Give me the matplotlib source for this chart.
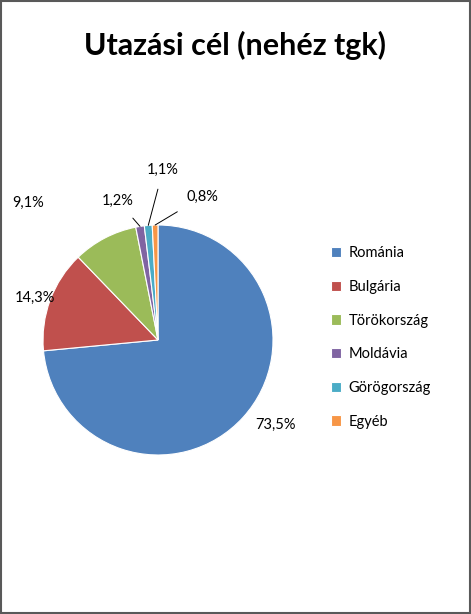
import matplotlib
matplotlib.use("Agg")
import matplotlib.pyplot as plt
import numpy as np

plt.rcParams['font.family'] = ['Lato', 'DejaVu Sans']

categories = ["Románia", "Bulgária", "Törökország", "Moldávia", "Görögország", "Egyéb"]
values = [73.5, 14.3, 9.1, 1.2, 1.1, 0.8]
labels = ["73,5%", "14,3%", "9,1%", "1,2%", "1,1%", "0,8%"]
colors = ["#4F81BD", "#C0504D", "#9BBB59", "#8064A2", "#4BACC6", "#F79646"]

W, H = 471, 614
fig = plt.figure(figsize=(W/100, H/100), dpi=100)
fig.patches.append(plt.Rectangle((0.002, 0.002), 0.996, 0.996, transform=fig.transFigure,
                                 fill=False, edgecolor="#595959", linewidth=1.5))
fig.text(235/W, 1-45/H, "Utazási cél (nehéz tgk)", ha="center", va="center",
         fontsize=22, fontweight="bold")

ax = fig.add_axes([43/W, 1-455/H, 230/W, 230/H])
wedges, _ = ax.pie(values, colors=colors, startangle=90, counterclock=False,
                   wedgeprops=dict(edgecolor="white", linewidth=0.8))
ax.set_xlim(-1, 1); ax.set_ylim(-1, 1); ax.set_aspect('equal')

# label positions (figure pixel coords)
lab_pos = [(275, 425), (35, 298), (28, 203), (118, 201), (163, 170), (202, 197)]
for i, (w, lab) in enumerate(zip(wedges, labels)):
    x, y = lab_pos[i]
    xf, yf = x/W, 1-y/H
    if i >= 3:
        ang = np.deg2rad((w.theta1 + w.theta2)/2)
        ax.annotate(lab, xy=(np.cos(ang)*1.0, np.sin(ang)*1.0), xycoords='data',
                    xytext=(xf, yf), textcoords='figure fraction',
                    ha="center", va="center", fontsize=10.5,
                    arrowprops=dict(arrowstyle="-", color="black", lw=0.7,
                                    shrinkA=7, shrinkB=0))
    else:
        fig.text(xf, yf, lab, ha="center", va="center", fontsize=10.5)

leg = fig.legend(wedges, categories, loc="upper left", bbox_to_anchor=(318/W, 1-233/H),
                 frameon=False, fontsize=10.5, handlelength=0.7, handleheight=0.7,
                 labelspacing=1.35, handletextpad=0.5)
fig.savefig("out.png", dpi=100)
